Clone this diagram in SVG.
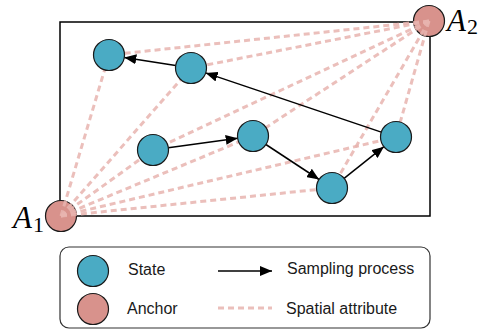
<svg xmlns="http://www.w3.org/2000/svg" width="487" height="331" viewBox="0 0 487 331">
<defs>
<style>
.state{fill:#4aabc4;stroke:#1a1a1a;stroke-width:1.2}
.anchor{fill:#d8928c;stroke:#1a1a1a;stroke-width:1.2}
.spatial{stroke:#e8b4af;stroke-width:3;stroke-dasharray:6 4;fill:none;opacity:0.85}
.flow{stroke:#000;stroke-width:1.5;fill:none;marker-end:url(#arr)}
.lbl{font-family:"Liberation Sans",Arial,sans-serif;font-size:16px;fill:#1a1a1a}
.math{font-family:"Liberation Serif","Times New Roman",serif;font-style:italic;fill:#000}
.sub{font-family:"Liberation Serif","Times New Roman",serif;fill:#000}
</style>
<marker id="arr" markerUnits="userSpaceOnUse" markerWidth="12" markerHeight="10" refX="12" refY="5" orient="auto">
<path d="M0,0 L12,5 L0,10 z" fill="#000"/>
</marker>
</defs>
<rect x="60" y="22" width="370" height="194" fill="#fff" stroke="#000" stroke-width="1.5"/>
<g id="A1"><circle class="anchor" cx="61" cy="216" r="15.5"/><text class="math" x="13" y="228" font-size="31">A</text><text class="sub" x="33" y="232" font-size="22">1</text></g>
<g id="A2"><circle class="anchor" cx="429" cy="21" r="15.5"/><text class="math" x="447" y="31" font-size="31">A</text><text class="sub" x="467" y="34" font-size="22">2</text></g>
<g id="connectors">
<line class="spatial" x1="61" y1="216" x2="109" y2="55"/>
<line class="spatial" x1="61" y1="216" x2="191" y2="68"/>
<line class="spatial" x1="61" y1="216" x2="153" y2="150"/>
<line class="spatial" x1="61" y1="216" x2="253" y2="136"/>
<line class="spatial" x1="61" y1="216" x2="332" y2="188"/>
<line class="spatial" x1="61" y1="216" x2="396" y2="137"/>
<line class="spatial" x1="429" y1="21" x2="109" y2="55"/>
<line class="spatial" x1="429" y1="21" x2="191" y2="68"/>
<line class="spatial" x1="429" y1="21" x2="153" y2="150"/>
<line class="spatial" x1="429" y1="21" x2="253" y2="136"/>
<line class="spatial" x1="429" y1="21" x2="332" y2="188"/>
<line class="spatial" x1="429" y1="21" x2="396" y2="137"/>
<line class="flow" x1="168.3" y1="147.8" x2="237.7" y2="138.2"/>
<line class="flow" x1="265.9" y1="144.5" x2="319.1" y2="179.5"/>
<line class="flow" x1="344.1" y1="178.3" x2="383.9" y2="146.7"/>
<line class="flow" x1="381.3" y1="132.1" x2="205.7" y2="72.9"/>
<line class="flow" x1="175.7" y1="65.6" x2="124.3" y2="57.4"/>
</g>
<g id="S1"><circle class="state" cx="109" cy="55" r="15.5"/></g>
<g id="S2"><circle class="state" cx="191" cy="68" r="15.5"/></g>
<g id="S3"><circle class="state" cx="153" cy="150" r="15.5"/></g>
<g id="S4"><circle class="state" cx="253" cy="136" r="15.5"/></g>
<g id="S5"><circle class="state" cx="332" cy="188" r="15.5"/></g>
<g id="S6"><circle class="state" cx="396" cy="137" r="15.5"/></g>
<g id="legend">
<rect x="60" y="247" width="370" height="81" rx="9" fill="#fff" stroke="#333" stroke-width="1.2"/>
<circle class="state" cx="93" cy="271" r="15.5"/>
<circle class="anchor" cx="93" cy="309" r="15.5"/>
<text class="lbl" x="128" y="275">State</text>
<text class="lbl" x="127" y="314">Anchor</text>
<line class="flow" x1="218" y1="271" x2="272" y2="271"/>
<text class="lbl" x="287" y="274">Sampling process</text>
<line class="spatial" x1="218" y1="308" x2="272" y2="308"/>
<text class="lbl" x="286" y="314">Spatial attribute</text>
</g>
</svg>
